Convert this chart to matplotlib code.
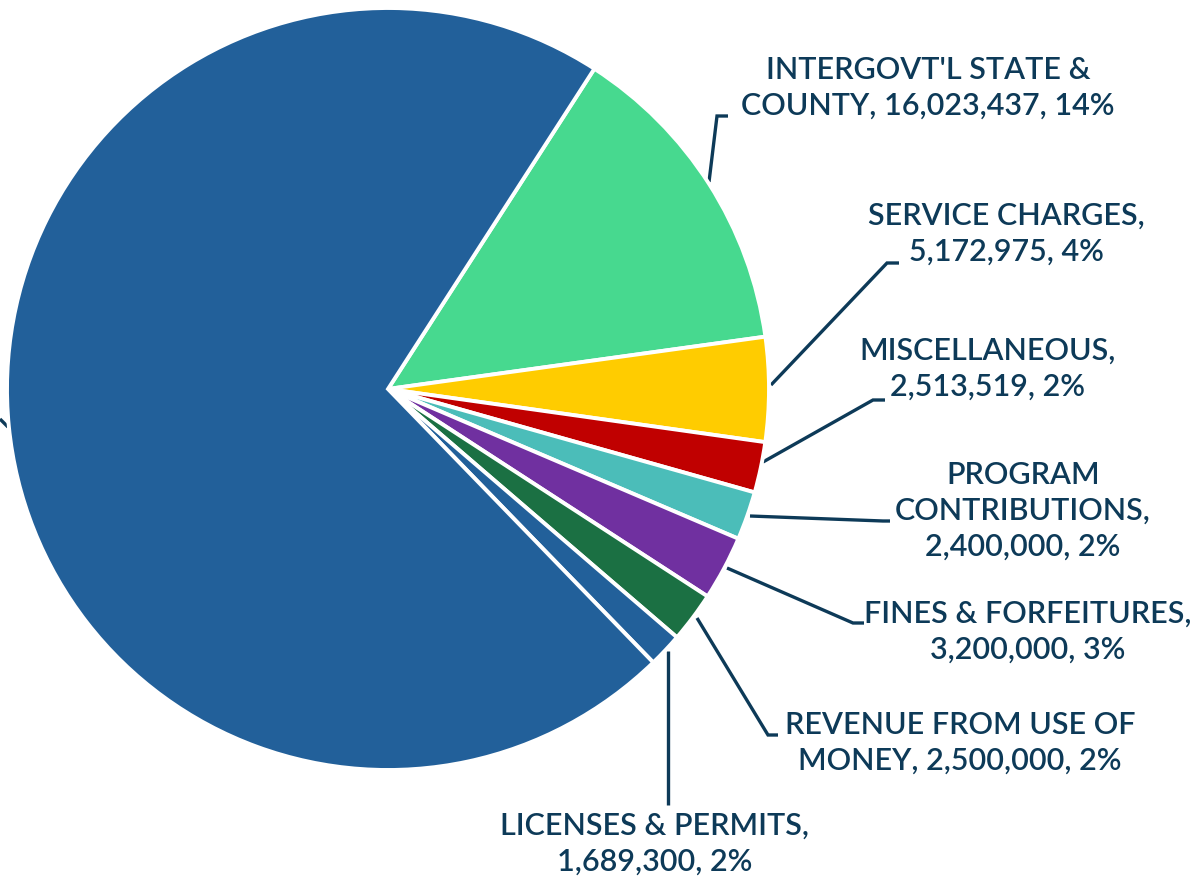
import matplotlib
matplotlib.use("Agg")
import matplotlib.pyplot as plt

# Data (clockwise from the top of the green slice)
categories = ["INTERGOVT'L STATE & COUNTY", "SERVICE CHARGES", "MISCELLANEOUS",
              "PROGRAM CONTRIBUTIONS", "FINES & FORFEITURES",
              "REVENUE FROM USE OF MONEY", "LICENSES & PERMITS", "OTHER"]
values = [16023437, 5172975, 2513519, 2400000, 3200000, 2500000, 1689300, 83500000]
pct_labels = ["14%", "4%", "2%", "2%", "3%", "2%", "2%", ""]
label_texts = [
    "INTERGOVT'L STATE &\nCOUNTY, 16,023,437, 14%",
    "SERVICE CHARGES,\n5,172,975, 4%",
    "MISCELLANEOUS,\n2,513,519, 2%",
    "PROGRAM\nCONTRIBUTIONS,\n2,400,000, 2%",
    "FINES & FORFEITURES,\n3,200,000, 3%",
    "REVENUE FROM USE OF\nMONEY, 2,500,000, 2%",
    "LICENSES & PERMITS,\n1,689,300, 2%",
]
colors = ["#47D98F", "#FFCC00", "#C00000", "#4BBDB9", "#7030A0", "#1B7043", "#22609A", "#22609A"]

W, H = 1191, 880
fig = plt.figure(figsize=(W / 100, H / 100), dpi=100)
ax = fig.add_axes([0, 0, 1, 1])
ax.set_xlim(0, W)
ax.set_ylim(H, 0)
ax.axis("off")

cx, cy, r = 388, 389, 381
ax2 = fig.add_axes([0, 0, 1, 1])
ax2.pie(values, colors=colors, startangle=57.2, counterclock=False,
        center=(cx, H - cy), radius=r, frame=True,
        wedgeprops=dict(edgecolor="white", linewidth=2.8))
ax2.set_xlim(0, W)
ax2.set_ylim(0, H)
ax2.set_aspect("auto")
ax2.axis("off")

line_col = "#0D3A58"
txt_col = "#0D3A58"
leaders = [
    [(709, 182), (717, 116), (728, 116)],
    [(771, 385), (887, 263), (899, 263)],
    [(763, 462), (873, 400), (885, 400)],
    [(750, 516), (883, 521), (890, 521)],
    [(727, 568), (853, 623), (864, 623)],
    [(697, 618), (768, 735), (778, 735)],
    [(668, 651), (668, 805)],
    [(0, 419), (8, 427)],
]
for pts in leaders:
    xs = [p[0] for p in pts]
    ys = [p[1] for p in pts]
    ax.plot(xs, ys, color=line_col, lw=2.4, solid_capstyle="butt", solid_joinstyle="miter")

label_pos = [(928, 88), (1006, 234), (988, 369), (1023, 511), (1028, 632), (960, 743), (655, 844)]
for txt, (x, y) in zip(label_texts, label_pos):
    ax.text(x, y, txt, ha="center", va="center", color=txt_col, fontsize=22,
            family=["Lato", "DejaVu Sans"], weight="semibold", linespacing=1.34)

fig.savefig("out.png", dpi=100, facecolor="white")
